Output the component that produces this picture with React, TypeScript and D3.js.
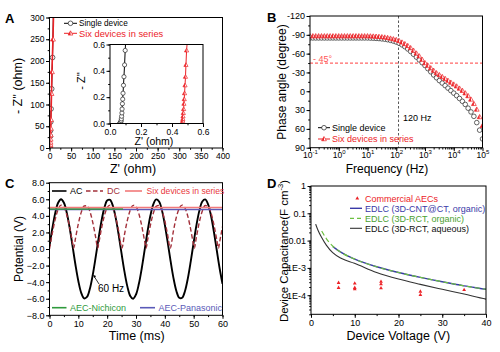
import { useEffect, useRef } from 'react'
import * as d3 from 'd3'

const FONT = '"Liberation Sans", Arial, Helvetica, sans-serif'
const RED = '#ec2227'

// ---------- A: Nyquist plot ----------
const aSingleMain: [number, number][] = [[0.6, 0], [1, 3], [1.2, 5], [1.3, 8], [1.5, 12], [1.8, 18], [2, 27], [2.3, 40], [2.8, 60], [3.5, 90], [5, 136], [7, 208], [8.8, 300]]
const aSixMain: [number, number][] = [[1.6, 0], [1.8, 3], [2, 5], [2.1, 8], [2.3, 13], [2.5, 20], [2.8, 30], [3, 45], [3.4, 65], [4.6, 125], [5.6, 175], [8, 250], [9.2, 300]]
const aSingleInset: [number, number][] = [[0.062, 0], [0.066, 0.005], [0.07, 0.012], [0.072, 0.022], [0.073, 0.035], [0.075, 0.055], [0.077, 0.08], [0.078, 0.11], [0.08, 0.15], [0.082, 0.185], [0.084, 0.23], [0.087, 0.29], [0.09, 0.355], [0.094, 0.445], [0.098, 0.555], [0.1, 0.6]]
const aSixInset: [number, number][] = [[0.466, 0], [0.467, 0.005], [0.468, 0.012], [0.469, 0.022], [0.47, 0.035], [0.471, 0.055], [0.473, 0.08], [0.475, 0.11], [0.477, 0.15], [0.479, 0.185], [0.481, 0.23], [0.484, 0.29], [0.487, 0.355], [0.49, 0.445], [0.494, 0.555], [0.497, 0.6]]
const aXTicks = [0, 50, 100, 150, 200, 250, 300, 350, 400]
const aYTicks = [0, 50, 100, 150, 200, 250, 300]
const insetTicks = [0, 0.2, 0.4, 0.6]

// ---------- B: Bode phase ----------
const bLogF = [-1, -0.9, -0.8, -0.7, -0.6, -0.5, -0.4, -0.3, -0.2, -0.1, 0, 0.1, 0.2, 0.3, 0.4, 0.5, 0.6, 0.7, 0.8, 0.9, 1, 1.1, 1.2, 1.3, 1.4, 1.5, 1.6, 1.7, 1.8, 1.9, 2, 2.1, 2.2, 2.3, 2.4, 2.5, 2.6, 2.7, 2.8, 2.9, 3, 3.1, 3.2, 3.3, 3.4, 3.5, 3.6, 3.7, 3.8, 3.9, 4, 4.1, 4.2, 4.3, 4.4, 4.5, 4.6, 4.7, 4.8, 4.9, 5]
const bSingle = [-85, -85, -85, -85, -85, -85, -85, -85, -85, -85, -85, -85, -85, -85, -85, -85, -85, -85, -85, -85, -85,
  -84.8, -84.6, -84.3, -84, -83.5, -83, -82.2, -81.2, -80,
  -78.5, -76.5, -74, -71, -67.5, -63.5, -59, -54.5, -50, -45.5,
  -41, -36, -31, -26, -21.5, -17, -13, -9, -5, -1,
  3, 7, 11.5, 16, 21, 27, 33, 40, 50, 62, 76]
const bSix = [-88, -88, -88, -88, -88, -88, -88, -88, -88, -88, -88, -88, -88, -88, -88, -88, -88, -88, -88, -88, -88,
  -87.8, -87.6, -87.3, -87, -86.5, -86, -85.2, -84.3, -83.2,
  -82, -80.3, -78, -75.5, -72.5, -69, -65, -60.5, -56, -50.5,
  -45, -41, -37, -33, -29, -26, -23, -20, -17, -14,
  -11, -8, -4.5, -1, 3, 7.5, 13, 20, 29, 41, 55]
const bYTicks = [-120, -90, -60, -30, 0, 30, 60, 90]
const bXExp = [-1, 0, 1, 2, 3, 4, 5]

// ---------- C: AC line filtering ----------
const cTime = [0, 1, 2, 3, 4, 5, 6, 7, 8, 9, 10, 11, 12, 13, 14, 15, 16, 17, 18, 19, 20, 21, 22, 23, 24, 25, 26, 27, 28, 29, 30, 31, 32, 33, 34, 35, 36, 37, 38, 39, 40, 41, 42, 43, 44, 45, 46, 47, 48, 49, 50, 51, 52, 53, 54, 55, 56, 57, 58, 59, 60]
const cAC = [0.34, 2.53, 4.36, 5.58, 6, 5.58, 4.36, 2.53, 0.34, -1.9, -3.86, -5.29, -5.96, -5.79, -4.8, -3.13, -1.02, 1.24, 3.32, 4.93, 5.85, 5.93, 5.18, 3.69, 1.68, -0.57, -2.73, -4.51, -5.66, -6, -5.49, -4.2, -2.32, -0.11, 2.11, 4.04, 5.39, 5.98, 5.73, 4.66, 2.93, 0.79, -1.46, -3.51, -5.06, -5.89, -5.89, -5.06, -3.51, -1.46, 0.79, 2.94, 4.66, 5.73, 5.98, 5.39, 4.04, 2.11, -0.12, -2.32, -4.2]
const cDC: [number, number][] = [[0, 0], [1, 1.94], [2, 3.61], [3, 4.78], [4, 5.29], [5, 5.05], [6, 4.11], [7, 2.6], [8, 0.73], [8.37, 0.1], [9, 1.25], [10, 3.05], [11, 4.42], [12, 5.19], [13, 5.23], [14, 4.54], [15, 3.21], [16, 1.44], [16.74, 0.1], [17, 0.53], [18, 2.42], [19, 3.98], [20, 4.99], [21, 5.3], [22, 4.87], [23, 3.77], [24, 2.14], [25.1, 0.1], [26, 1.75], [27, 3.46], [28, 4.69], [29, 5.27], [30, 5.11], [31, 4.24], [32, 2.79], [33, 0.94], [33.5, 0.1], [34, 1.04], [35, 2.88], [36, 4.31], [37, 5.14], [38, 5.26], [39, 4.64], [40, 3.38], [41, 1.65], [41.85, 0.1], [43, 2.23], [44, 3.84], [45, 4.91], [46, 5.3], [47, 4.95], [48, 3.91], [49, 2.32], [50, 0.42], [50.2, 0.1], [51, 1.55], [52, 3.3], [53, 4.59], [54, 5.24], [55, 5.16], [56, 4.36], [57, 2.96], [58, 1.14], [58.6, 0.1], [59, 0.84], [60, 2.7]]
const cSixSeries: [number, number][] = [[0, 5.0], [60, 5.0]]
const cNichicon: [number, number][] = [[0, 4.82], [25.5, 4.82]]
const cPanasonic: [number, number][] = [[0, 4.76], [60, 4.76]]
const cXTicks = [0, 10, 20, 30, 40, 50, 60]
const cYTicks = [-8, -6, -4, -2, 0, 2, 4, 6, 8]

// ---------- D: capacitance vs voltage ----------
const dAqueous: [number, number][] = [[1.07, 0.04], [1.6, 0.024], [2.44, 0.0129], [3.5, 0.0068], [4.96, 0.0036], [7, 0.0022], [9.92, 0.00148], [15, 0.00068], [20, 0.00039], [25, 0.00025], [30, 0.000165], [35, 0.00011], [40, 0.000072], [40.2, 0.000071]]
const dCntOrganic: [number, number][] = [[5, 0.006], [7, 0.0036], [10, 0.0021], [15, 0.0011], [20, 0.00068], [25, 0.00045], [30, 0.00031], [35, 0.00022], [40, 0.000165], [40.2, 0.000163]]
const dRctOrganic: [number, number][] = [[2.44, 0.0224], [3.5, 0.0118], [5, 0.0062], [7, 0.0036], [10, 0.0021], [15, 0.0011], [20, 0.00068], [25, 0.00045], [30, 0.00031], [35, 0.00022], [40, 0.000165], [40.2, 0.000163]]
const dAECs: [number, number][] = [[6.3, 0.00029], [6.3, 0.00019], [10, 0.000275], [10, 0.00019], [10, 0.00017], [16, 0.00032], [16, 0.00026], [16, 0.000185], [25, 0.00014], [25, 0.000105], [35, 0.00016]]
const dXTicks = [0, 10, 20, 30, 40]
const dYTicks = [1, 0.1, 0.01, 1e-3, 1e-4]
const dYLabels = ['1', '0.1', '0.01', '1E-3', '1E-4']

type G = d3.Selection<SVGGElement, unknown, null, undefined>

function txt(g: G, x: number, y: number, s: string, size = 9, color = '#000', anchor = 'start', weight = 'normal') {
  return g.append('text').attr('x', x).attr('y', y).attr('font-family', FONT).attr('font-size', size)
    .attr('fill', color).attr('text-anchor', anchor).attr('font-weight', weight).text(s)
}

function vtxt(g: G, cx: number, cy: number, s: string, size = 12) {
  return g.append('text').attr('transform', `translate(${cx},${cy}) rotate(-90)`)
    .attr('font-family', FONT).attr('font-size', size).attr('text-anchor', 'middle').attr('dy', '0.35em').text(s)
}

function leftAxis(g: G, y: any, x0: number, major: number[], minor: number[], fmt: (d: any, i: number) => string, fs = 9) {
  g.append('g').attr('transform', `translate(${x0},0)`)
    .call(d3.axisLeft(y).tickValues(minor).tickSize(1.8).tickFormat(() => ''))
    .call(ag => { ag.select('.domain').remove(); ag.selectAll('line').attr('stroke', '#000') })
  g.append('g').attr('transform', `translate(${x0},0)`)
    .call(d3.axisLeft(y).tickValues(major).tickSize(3.5).tickPadding(1.5).tickFormat(fmt as any))
    .call(ag => {
      ag.select('.domain').remove()
      ag.selectAll('line').attr('stroke', '#000')
      ag.attr('font-family', FONT).attr('font-size', fs)
      ag.selectAll('text').attr('fill', '#000')
    })
}

function bottomAxis(g: G, x: any, y0: number, major: number[], minor: number[], fmt: (d: any, i: number) => string, fs = 9) {
  g.append('g').attr('transform', `translate(0,${y0})`)
    .call(d3.axisBottom(x).tickValues(minor).tickSize(1.8).tickFormat(() => ''))
    .call(ag => { ag.select('.domain').remove(); ag.selectAll('line').attr('stroke', '#000') })
  return g.append('g').attr('transform', `translate(0,${y0})`)
    .call(d3.axisBottom(x).tickValues(major).tickSize(3.5).tickPadding(1.5).tickFormat(fmt as any))
    .call(ag => {
      ag.select('.domain').remove()
      ag.selectAll('line').attr('stroke', '#000')
      ag.attr('font-family', FONT).attr('font-size', fs)
      ag.selectAll('text').attr('fill', '#000')
    })
}

function frame(g: G, x: number, y: number, w: number, h: number, fill = 'none') {
  g.append('rect').attr('x', x).attr('y', y).attr('width', w).attr('height', h)
    .attr('fill', fill).attr('stroke', '#000').attr('stroke-width', 1)
}

function circ(g: G, cx: number, cy: number, r: number) {
  g.append('circle').attr('cx', cx).attr('cy', cy).attr('r', r)
    .attr('fill', '#fff').attr('stroke', '#222').attr('stroke-width', 0.7)
}

function halfTri(g: G, cx: number, cy: number, s: number, color = RED) {
  const top = [cx, cy - s], bl = [cx - s * 0.95, cy + s * 0.7], br = [cx + s * 0.95, cy + s * 0.7], bm = [cx, cy + s * 0.7]
  g.append('path').attr('d', `M${top}L${bl}L${br}Z`).attr('fill', '#fff').attr('stroke', color).attr('stroke-width', 0.7)
  g.append('path').attr('d', `M${top}L${bl}L${bm}Z`).attr('fill', color)
}

function tri(g: G, cx: number, cy: number, s: number, color = RED) {
  g.append('path').attr('d', `M${cx},${cy - s}L${cx - s * 0.95},${cy + s * 0.7}L${cx + s * 0.95},${cy + s * 0.7}Z`).attr('fill', color)
}

function hline(g: G, x1: number, x2: number, y: number, color: string, w = 1, dash = '') {
  g.append('line').attr('x1', x1).attr('x2', x2).attr('y1', y).attr('y2', y)
    .attr('stroke', color).attr('stroke-width', w).attr('stroke-dasharray', dash || null)
}

const range = (a: number, b: number, s: number) => d3.range(a, b + s / 2, s)

export default function App() {
  const ref = useRef<SVGSVGElement>(null)

  useEffect(() => {
    const svg = d3.select(ref.current!)
    svg.selectAll('*').remove()
    const root = svg.append('g') as unknown as G
    root.append('rect').attr('width', 500).attr('height', 352).attr('fill', '#fff')
    const defs = root.append('defs')
    const clip = (id: string, x: number, y: number, w: number, h: number) => {
      defs.append('clipPath').attr('id', id).append('rect').attr('x', x).attr('y', y).attr('width', w).attr('height', h)
      return `url(#${id})`
    }

    // ======== A ========
    const xA = d3.scaleLinear([0, 400], [49.5, 222.5])
    const yA = d3.scaleLinear([0, 300], [148, 17.5])
    const pA = root.append('g').attr('clip-path', clip('cA', 49.5, 17.5, 173, 130.5)) as unknown as G
    const lineA = d3.line<[number, number]>().x(d => xA(d[0])).y(d => yA(d[1]))
    pA.append('path').datum(aSingleMain).attr('d', lineA).attr('fill', 'none').attr('stroke', '#000').attr('stroke-width', 1)
    aSingleMain.filter(d => d[1] > 20 && d[1] < 290).forEach(d => circ(pA, xA(d[0]), yA(d[1]), 2.4))
    pA.append('path').datum(aSixMain).attr('d', lineA).attr('fill', 'none').attr('stroke', RED).attr('stroke-width', 1.6)
    aSixMain.filter(d => d[1] < 290).forEach(d => halfTri(pA, xA(d[0]), yA(d[1]), 2.6))
    frame(root, 49.5, 17.5, 173, 130.5)
    leftAxis(root, yA, 49.5, aYTicks, range(0, 300, 25), d => String(d), 8.5)
    bottomAxis(root, xA, 148, aXTicks, range(0, 400, 25), d => String(d), 8.5)
    vtxt(root, 18, 86, "- Z'' (ohm)", 12.5)
    txt(root, 133, 172.5, "Z' (ohm)", 12.5, '#000', 'middle')

    // inset
    const xI = d3.scaleLinear([0, 0.6], [110, 203])
    const yI = d3.scaleLinear([0, 0.6], [123.5, 44.5])
    root.append('rect').attr('x', 110).attr('y', 44.5).attr('width', 93).attr('height', 79).attr('fill', '#fff')
    const pI = root.append('g').attr('clip-path', clip('cI', 110, 44.5, 93, 79)) as unknown as G
    const lineI = d3.line<[number, number]>().x(d => xI(d[0])).y(d => yI(d[1]))
    pI.append('path').datum(aSingleInset).attr('d', lineI).attr('fill', 'none').attr('stroke', '#000').attr('stroke-width', 1)
    aSingleInset.filter(d => d[1] < 0.58).forEach(d => circ(pI, xI(d[0]), yI(d[1]), 2.1))
    pI.append('path').datum(aSixInset).attr('d', lineI).attr('fill', 'none').attr('stroke', RED).attr('stroke-width', 1)
    aSixInset.filter(d => d[1] < 0.58).forEach(d => halfTri(pI, xI(d[0]), yI(d[1]), 2.2))
    frame(root, 110, 44.5, 93, 79)
    leftAxis(root, yI, 110, insetTicks, range(0, 0.6, 0.1), d => d3.format('.1f')(d), 8.5)
    bottomAxis(root, xI, 123.5, insetTicks, range(0, 0.6, 0.1), d => d3.format('.1f')(d), 8.5)
    vtxt(root, 81, 81, "- Z''", 11)
    txt(root, 154, 145, "Z' (ohm)", 10.5, '#000', 'middle')

    // legend A
    hline(root, 64, 77, 23.3, '#000', 1)
    circ(root, 70.5, 23.3, 2.3)
    txt(root, 79, 26.3, 'Single device', 8.2)
    hline(root, 64, 77, 33.3, RED, 1)
    halfTri(root, 70.5, 33.3, 2.5)
    txt(root, 79, 36.6, 'Six devices in series', 9.3, RED)
    txt(root, 5, 23, 'A', 13, '#000', 'start', 'bold')

    // ======== B ========
    const xB = d3.scaleLog([0.1, 1e5], [310, 482.5])
    const yB = d3.scaleLinear([-120, 90], [16, 147.7])
    const pB = root.append('g').attr('clip-path', clip('cB', 310, 16, 172.5, 131.7)) as unknown as G
    pB.append('line').attr('x1', xB(120)).attr('x2', xB(120)).attr('y1', 16).attr('y2', 147.7)
      .attr('stroke', '#444').attr('stroke-width', 0.9).attr('stroke-dasharray', '2.5,2')
    pB.append('line').attr('x1', 310).attr('x2', 482.5).attr('y1', yB(-45)).attr('y2', yB(-45))
      .attr('stroke', '#f66').attr('stroke-width', 1.3).attr('stroke-dasharray', '3,2')
    bLogF.forEach((e, i) => circ(pB, xB(Math.pow(10, e)), yB(bSingle[i]), 2.3))
    bLogF.forEach((e, i) => halfTri(pB, xB(Math.pow(10, e)), yB(bSix[i]), 2.5))
    frame(root, 310, 16, 172.5, 131.7)
    leftAxis(root, yB, 310, bYTicks, range(-120, 90, 15), d => String(d), 9)
    const bMinor: number[] = []
    bXExp.forEach(e => { if (e < 5) for (let k = 1; k < 10; k++) bMinor.push(k * Math.pow(10, e)) })
    const bx = bottomAxis(root, xB, 147.7, bXExp.map(e => Math.pow(10, e)), bMinor, () => '', 8.5)
    bx.selectAll<SVGTextElement, number>('text').attr('dy', '0.6em').each(function (d) {
      const t = d3.select(this)
      t.append('tspan').text('10')
      t.append('tspan').attr('font-size', 6).attr('dy', -3.5).text(String(Math.round(Math.log10(d))))
    })
    txt(root, 313, 61.5, '- 45°', 9, '#f55')
    txt(root, 403, 121, '120 Hz', 9)
    hline(root, 318, 330, 127.7, '#000', 1)
    circ(root, 324, 127.7, 2.3)
    txt(root, 332, 130.8, 'Single device', 9)
    hline(root, 318, 330, 139, RED, 1)
    halfTri(root, 324, 139, 2.5)
    txt(root, 332, 142.2, 'Six devices in series', 9, RED)
    vtxt(root, 282, 82, 'Phase angle (degree)', 12)
    txt(root, 387, 172.5, 'Frequency (Hz)', 12, '#000', 'middle')
    txt(root, 267, 22, 'B', 13, '#000', 'start', 'bold')

    // ======== C ========
    const xC = d3.scaleLinear([0, 60], [49.5, 222.5])
    const yC = d3.scaleLinear([-8, 8], [315.3, 182.7])
    const pC = root.append('g').attr('clip-path', clip('cC', 49.5, 182.7, 173, 132.6)) as unknown as G
    const lineC = d3.line<[number, number]>().x(d => xC(d[0])).y(d => yC(d[1]))
    pC.append('path').datum(cTime.map((t, i) => [t, cAC[i]] as [number, number]))
      .attr('d', lineC.curve(d3.curveCatmullRom)).attr('fill', 'none').attr('stroke', '#000').attr('stroke-width', 1.9)
    pC.append('path').datum(cDC).attr('d', lineC.curve(d3.curveMonotoneX)).attr('fill', 'none')
      .attr('stroke', '#a3303a').attr('stroke-width', 1.4).attr('stroke-dasharray', '4.5,2.5')
    lineC.curve(d3.curveLinear)
    pC.append('path').datum(cPanasonic).attr('d', lineC).attr('stroke', '#5a5ab8').attr('stroke-width', 1.6)
    pC.append('path').datum(cNichicon).attr('d', lineC).attr('stroke', '#2f9a3c').attr('stroke-width', 1.6)
    pC.append('path').datum(cSixSeries).attr('d', lineC).attr('stroke', '#f27a7a').attr('stroke-width', 1.6)
    frame(root, 49.5, 182.7, 173, 132.6)
    leftAxis(root, yC, 49.5, cYTicks, range(-8, 8, 1), d => d3.format('.1f')(d), 9)
    bottomAxis(root, xC, 315.3, cXTicks, range(0, 60, 5), d => String(d), 9)
    hline(root, 52, 66.5, 191, '#000', 1.6)
    txt(root, 70, 194.2, 'AC', 9)
    hline(root, 86, 103, 191, '#a3303a', 1.4, '4.5,2.5')
    txt(root, 107, 194.2, 'DC', 9, '#a3303a')
    hline(root, 125, 142, 191, '#f27a7a', 1.6)
    txt(root, 146.5, 194.2, 'Six devices in series', 8.6, '#e8383c')
    hline(root, 52, 66.5, 307.7, '#2f9a3c', 1.6)
    txt(root, 70, 310.9, 'AEC-Nichicon', 9, '#2f9a3c')
    hline(root, 140, 155, 307.7, '#5a5ab8', 1.6)
    txt(root, 158.5, 310.9, 'AEC-Panasonic', 9, '#5a5ab8')
    // 60 Hz annotation
    const tipX = xC(15.1), tipY = yC(-3.1)
    root.append('line').attr('x1', 99).attr('y1', 284).attr('x2', tipX + 1).attr('y2', tipY + 1.5)
      .attr('stroke', '#000').attr('stroke-width', 0.8)
    root.append('path').attr('d', `M${tipX},${tipY}l3,1.2l-1.6,2.2Z`).attr('fill', '#000')
    txt(root, 98, 291.5, '60 Hz', 10)
    vtxt(root, 18.3, 249, 'Potential (V)', 12)
    txt(root, 136.7, 339.5, 'Time (ms)', 12.5, '#000', 'middle')
    txt(root, 5, 188, 'C', 13, '#000', 'start', 'bold')

    // ======== D ========
    const xD = d3.scaleLinear([0, 40], [311, 486])
    const yD = d3.scaleLog([2e-5, 1], [314.3, 186])
    const pD = root.append('g').attr('clip-path', clip('cD', 311, 186, 175, 128.3)) as unknown as G
    const lineD = d3.line<[number, number]>().x(d => xD(d[0])).y(d => yD(d[1])).curve(d3.curveMonotoneX)
    pD.append('path').datum(dAqueous).attr('d', lineD).attr('fill', 'none').attr('stroke', '#333').attr('stroke-width', 1.1)
    pD.append('path').datum(dCntOrganic).attr('d', lineD).attr('fill', 'none').attr('stroke', '#3a3aa8').attr('stroke-width', 1.4)
    pD.append('path').datum(dRctOrganic).attr('d', lineD).attr('fill', 'none').attr('stroke', '#6cc040').attr('stroke-width', 1.2).attr('stroke-dasharray', '5,3')
    dAECs.forEach(d => tri(pD, xD(d[0]), yD(d[1]), 2))
    frame(root, 311, 186, 175, 128.3)
    const dMinor: number[] = []
    for (let e = -5; e < 0; e++) for (let k = 1; k < 10; k++) { const v = k * Math.pow(10, e); if (v >= 2e-5) dMinor.push(v) }
    leftAxis(root, yD, 311, dYTicks, dMinor, (_d, i) => dYLabels[i], 9)
    bottomAxis(root, xD, 314.3, dXTicks, range(0, 40, 5), d => String(d), 9)
    tri(root, 357.3, 198.2, 2)
    txt(root, 365, 201.5, 'Commercial AECs', 9, RED)
    hline(root, 350, 362, 208.3, '#3a3aa8', 1.4)
    txt(root, 365, 211.5, 'EDLC (3D-CNT@CT, organic)', 9, '#3a3aa8')
    hline(root, 350, 362, 218.3, '#6cc040', 1.2, '4,3')
    txt(root, 365, 221.5, 'EDLC (3D-RCT, organic)', 9, '#4aa030')
    hline(root, 350, 362, 228.3, '#333', 1.1)
    txt(root, 365, 231.5, 'EDLC (3D-RCT, aqueous)', 9, '#111')
    const yt = root.append('text').attr('transform', 'translate(283.5,251) rotate(-90)')
      .attr('font-family', FONT).attr('font-size', 11.5).attr('text-anchor', 'middle').attr('dy', '0.35em')
    yt.append('tspan').text('Device Capacitance(F cm')
    yt.append('tspan').attr('font-size', 7.5).attr('dy', -4.5).text('-3')
    yt.append('tspan').attr('dy', 4.5).text(')')
    txt(root, 398.3, 339.5, 'Device Voltage (V)', 12.5, '#000', 'middle')
    txt(root, 267, 188, 'D', 13, '#000', 'start', 'bold')
  }, [])

  return <svg ref={ref} width={500} height={352} style={{ position: 'absolute', left: 0, top: 0, display: 'block' }} />
}
